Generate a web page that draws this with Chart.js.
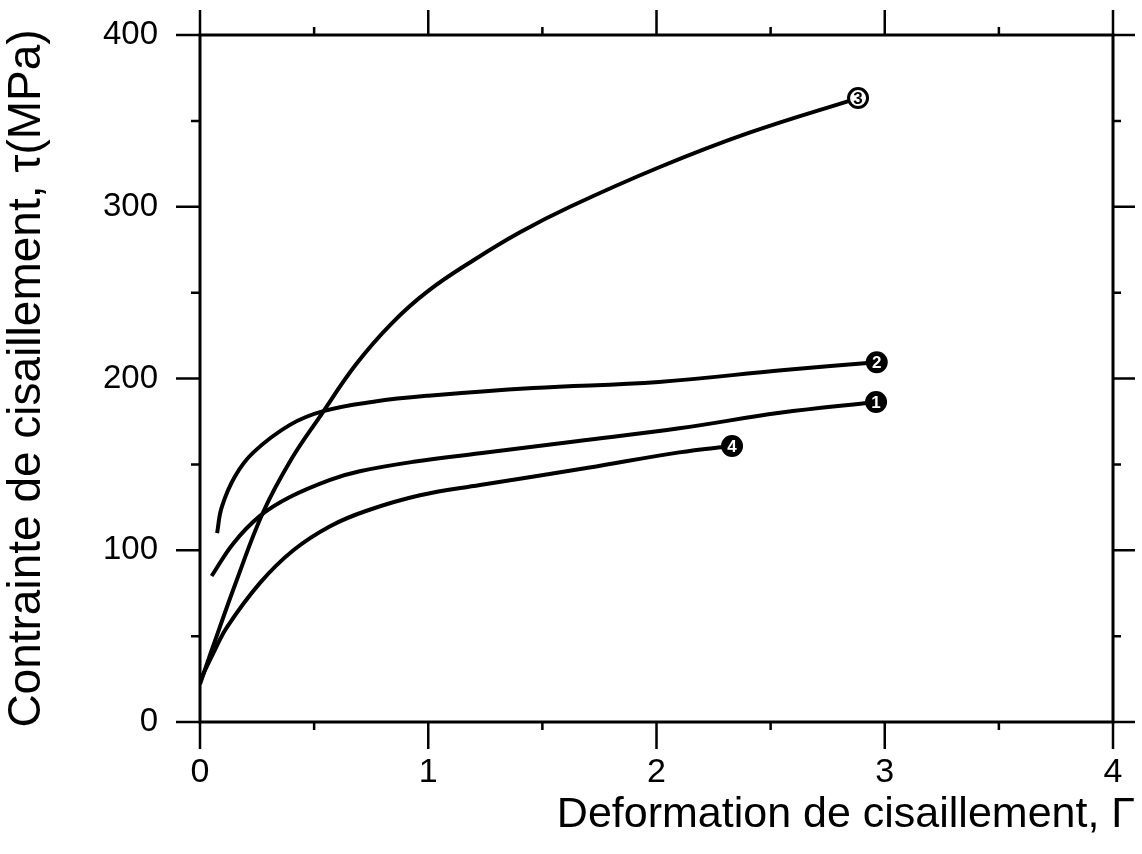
<!DOCTYPE html>
<html lang="fr">
<head>
  <meta charset="UTF-8">
  <title>Contrainte de cisaillement</title>
  <script src="https://cdn.jsdelivr.net/npm/chart.js"></script>
  <style>
    body { margin: 0; background: #fff; }
    .chart-container { width: 1142px; height: 854px; }
  </style>
</head>
<body>
  <div class="chart-container">
    <canvas id="myChart" width="1142" height="854"></canvas>
  </div>
  <script>
    // values (strain Γ, stress τ in MPa)
    const curve1X = [0.051, 0.146, 0.263, 0.394, 0.57, 0.70, 0.935, 1.227, 1.65, 2.10, 2.54, 2.962];
    const curve1Y = [85, 104, 120, 131, 141, 146, 151.5, 156.5, 163.5, 171, 180, 186.3];
    const curve2X = [0.075, 0.095, 0.153, 0.234, 0.394, 0.54, 0.76, 1.0, 1.46, 2.01, 2.56, 2.965];
    const curve2Y = [110, 125, 143, 157, 173, 181, 186.5, 190, 194.5, 198, 205, 209.5];
    const curve3X = [0, 0.057, 0.162, 0.276, 0.40, 0.526, 0.682, 0.839, 1.0, 1.2, 1.4, 1.621, 2.012, 2.404, 2.883];
    const curve3Y = [22, 44, 83, 122, 153, 178, 208, 232, 251, 269, 285, 300, 323, 343, 363.3];
    const curve4X = [0, 0.058, 0.117, 0.263, 0.409, 0.57, 0.73, 0.964, 1.227, 1.7, 2.10, 2.331];
    const curve4Y = [24, 40, 55, 81, 100, 114, 123, 132, 138, 148, 157, 160.7];
    const curveLabels = ['1', '2', '3', '4'];
    const xTicks = [0, 1, 2, 3, 4];
    const yTicks = [0, 100, 200, 300, 400];

    const toPoints = (xs, ys) => xs.map((x, i) => ({ x: x, y: ys[i] }));
    const series = [
      toPoints(curve1X, curve1Y),
      toPoints(curve2X, curve2Y),
      toPoints(curve3X, curve3Y),
      toPoints(curve4X, curve4Y)
    ];

    const FONT = "'Liberation Sans', Arial, sans-serif";

    // frame with outward ticks (major + minor), like the original plot
    const framePlugin = {
      id: 'frame',
      afterDraw(chart) {
        const c = chart.ctx;
        const a = chart.chartArea;
        const sx = chart.scales.x, sy = chart.scales.y;
        c.save();
        c.strokeStyle = '#000';
        c.lineCap = 'butt';
        c.lineWidth = 3;
        c.beginPath();
        c.moveTo(a.left, a.top); c.lineTo(a.right, a.top);
        c.lineTo(a.right, a.bottom); c.lineTo(a.left, a.bottom);
        c.closePath();
        c.stroke();
        c.lineWidth = 2.5;
        c.beginPath();
        for (let v = 0; v <= 4.001; v += 0.5) {
          const px = sx.getPixelForValue(v);
          const major = Math.abs(v - Math.round(v)) < 1e-6;
          c.moveTo(px, a.bottom); c.lineTo(px, a.bottom + (major ? 27 : 8));
          c.moveTo(px, a.top); c.lineTo(px, a.top - (major ? 25 : 8));
        }
        for (let v = 0; v <= 400.01; v += 50) {
          const py = sy.getPixelForValue(v);
          const major = v % 100 === 0;
          c.moveTo(a.left, py); c.lineTo(a.left - (major ? 24 : 9), py);
          c.moveTo(a.right, py); c.lineTo(a.right + (major ? 22 : 8), py);
        }
        c.stroke();

        // circled curve numbers at the end of each curve
        chart.data.datasets.forEach((ds, i) => {
          const meta = chart.getDatasetMeta(i);
          const pt = meta.data[meta.data.length - 1];
          const hollow = ds.label === '3';
          c.beginPath();
          c.arc(pt.x, pt.y, 9.5, 0, Math.PI * 2);
          c.fillStyle = hollow ? '#fff' : '#000';
          c.fill();
          c.lineWidth = 3;
          c.strokeStyle = '#000';
          c.stroke();
          c.fillStyle = hollow ? '#000' : '#fff';
          c.font = 'bold 17px ' + FONT;
          c.textAlign = 'center';
          c.textBaseline = 'middle';
          c.fillText(ds.label, pt.x, pt.y + 1);
        });
        c.restore();
      }
    };

    const noPadX = (s) => { s.paddingLeft = 0; s.paddingRight = 0; };
    const noPadY = (s) => { s.paddingTop = 0; s.paddingBottom = 0; };

    const config = {
      type: 'scatter',
      data: {
        datasets: series.map((pts, i) => ({
          label: curveLabels[i],
          data: pts,
          showLine: true,
          borderColor: '#000',
          borderWidth: 4,
          pointRadius: 0,
          tension: 0.4,
          fill: false
        }))
      },
      options: {
        responsive: false,
        animation: false,
        layout: { padding: { left: 0, top: 0, bottom: 0, right: 7 } },
        plugins: {
          legend: { display: false },
          tooltip: { enabled: false },
          title: {
            display: true,
            position: 'bottom',
            align: 'end',
            text: 'Deformation de cisaillement, Γ',
            color: '#000',
            font: { family: FONT, size: 43, weight: 'normal' },
            padding: { top: 0, bottom: 13 }
          }
        },
        scales: {
          x: {
            type: 'linear',
            position: 'bottom',
            min: 0,
            max: 4,
            afterFit: (s) => { s.height = 854 - 722 - 64.6; noPadX(s); },
            afterBuildTicks: (s) => { s.ticks = xTicks.map(v => ({ value: v })); },
            grid: { display: false, drawTicks: false },
            border: { display: false },
            ticks: { color: '#000', font: { family: FONT, size: 34 }, padding: 30, maxRotation: 0 }
          },
          x2: {
            type: 'linear',
            position: 'top',
            min: 0,
            max: 4,
            afterFit: (s) => { s.height = 35; noPadX(s); },
            grid: { display: false, drawTicks: false },
            border: { display: false },
            ticks: { display: false }
          },
          y: {
            type: 'linear',
            position: 'left',
            min: 0,
            max: 400,
            afterFit: (s) => { s.width = 200; noPadY(s); },
            afterBuildTicks: (s) => { s.ticks = yTicks.map(v => ({ value: v })); },
            grid: { display: false, drawTicks: false },
            border: { display: false },
            ticks: { color: '#000', font: { family: FONT, size: 33 }, padding: 42 },
            title: {
              display: true,
              text: 'Contrainte de cisaillement, τ(MPa)',
              color: '#000',
              font: { family: FONT, size: 46 },
              padding: { top: 0, bottom: 0 }
            }
          },
          y2: {
            type: 'linear',
            position: 'right',
            min: 0,
            max: 400,
            afterFit: (s) => { s.width = 22; noPadY(s); },
            grid: { display: false, drawTicks: false },
            border: { display: false },
            ticks: { display: false }
          }
        }
      },
      plugins: [framePlugin]
    };

    const myChart = new Chart(document.getElementById('myChart').getContext('2d'), config);
  </script>
</body>
</html>
